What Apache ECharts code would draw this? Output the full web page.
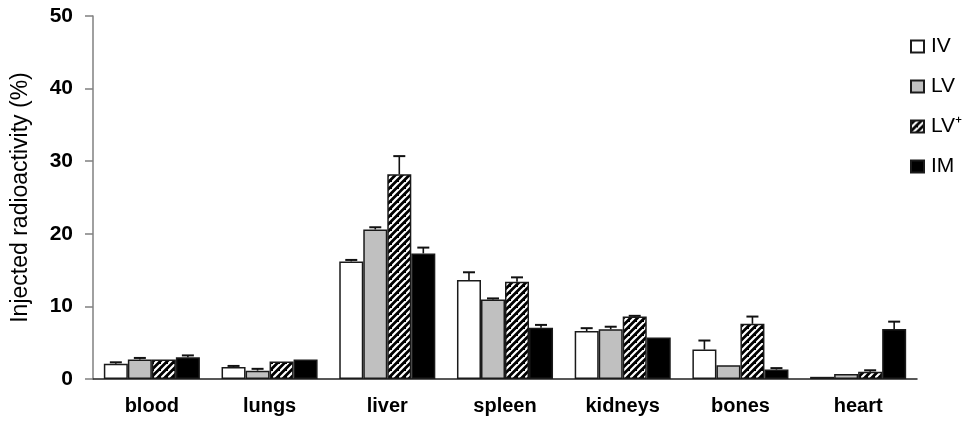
<!DOCTYPE html>
<html>
<head>
<meta charset="utf-8">
<script src="https://cdn.jsdelivr.net/npm/echarts@6/dist/echarts.min.js"></script>
<style>
html,body{margin:0;padding:0;background:#fff;}
#c{width:967px;height:432px;}
</style>
</head>
<body>
<div id="c"></div>
<script>
const categories = ['blood', 'lungs', 'liver', 'spleen', 'kidneys', 'bones', 'heart'];
const seriesNames = ['IV', 'LV', 'LV\u207A', 'IM'];
const ivValues = [2.1, 1.65, 16.2, 13.65, 6.6, 4.05, 0.3];
const ivErrors = [0.2, 0.15, 0.2, 1.05, 0.4, 1.25, 0];
const lvValues = [2.7, 1.15, 20.6, 10.95, 6.85, 1.9, 0.7];
const lvErrors = [0.2, 0.25, 0.3, 0.15, 0.35, 0, 0];
const lvPlusValues = [2.7, 2.4, 28.2, 13.4, 8.6, 7.6, 1.0];
const lvPlusErrors = [0, 0, 2.5, 0.6, 0.1, 1.0, 0.2];
const imValues = [3.0, 2.7, 17.3, 7.05, 5.7, 1.3, 6.9];
const imErrors = [0.25, 0, 0.8, 0.4, 0, 0.2, 1.0];
const yTicks = [0, 10, 20, 30, 40, 50];

const allValues = [ivValues, lvValues, lvPlusValues, imValues];
const allErrors = [ivErrors, lvErrors, lvPlusErrors, imErrors];

// hatch pattern
function makeHatch() {
  const s = 7;
  const cv = document.createElement('canvas');
  cv.width = s; cv.height = s;
  const g = cv.getContext('2d');
  g.fillStyle = '#000';
  g.fillRect(0, 0, s, s);
  g.strokeStyle = '#fff';
  g.lineWidth = 2.2;
  g.beginPath();
  g.moveTo(-1, s + 1); g.lineTo(s + 1, -1);
  g.moveTo(-1 - s, s + 1); g.lineTo(1, -1);
  g.moveTo(s - 1, 2 * s + 1); g.lineTo(2 * s + 1, s - 1);
  g.stroke();
  return cv;
}
const hatch = makeHatch();

const fills = ['#ffffff', '#c0c0c0', { image: hatch, repeat: 'repeat' }, '#000000'];
const CAT_GAP = 0.184;

const series = [];
allValues.forEach((vals, k) => {
  series.push({
    name: seriesNames[k],
    type: 'bar',
    data: vals,
    barGap: '0%',
    barCategoryGap: (CAT_GAP * 100) + '%',
    itemStyle: { color: fills[k], borderColor: '#1a1a1a', borderWidth: 1.5 },
    emphasis: { disabled: true },
    z: 2
  });
});
allValues.forEach((vals, k) => {
  series.push({
    type: 'custom',
    name: seriesNames[k] + ' err',
    data: vals.map((v, i) => [i, v, allErrors[k][i]]),
    z: 5,
    silent: true,
    renderItem: function (params, api) {
      const i = api.value(0), v = api.value(1), e = api.value(2);
      if (!e) return null;
      const catW = api.size([1, 0])[0];
      const barW = catW * (1 - CAT_GAP) / 4;
      const p0 = api.coord([i, v]);
      const p1 = api.coord([i, v + e]);
      const x = p0[0] + (k - 1.5) * barW;
      const half = 6;
      return {
        type: 'group',
        children: [
          { type: 'line', shape: { x1: x, y1: p0[1], x2: x, y2: p1[1] }, style: { stroke: '#111', lineWidth: 1.6 } },
          { type: 'line', shape: { x1: x - half, y1: p1[1], x2: x + half, y2: p1[1] }, style: { stroke: '#111', lineWidth: 2 } }
        ]
      };
    }
  });
});

const chart = echarts.init(document.getElementById('c'), null, { renderer: 'canvas' });
chart.setOption({
  animation: false,
  backgroundColor: '#fff',
  grid: { left: 93, right: 50, top: 16, bottom: 53, containLabel: false },
  legend: {
    data: seriesNames,
    orient: 'vertical',
    left: 905,
    top: 31,
    itemGap: 19,
    itemWidth: 13,
    itemHeight: 12,
    icon: 'rect',
    selectedMode: false,
    textStyle: { fontFamily: 'Liberation Sans', fontSize: 21, color: '#000', padding: [0, 0, 0, 2] }
  },
  xAxis: {
    type: 'category',
    data: categories,
    axisLine: { lineStyle: { color: '#222', width: 1.5 } },
    axisTick: { show: false },
    axisLabel: { margin: 17, fontFamily: 'Liberation Sans', fontWeight: 'bold', fontSize: 20, color: '#000' }
  },
  yAxis: {
    type: 'value',
    min: 0, max: 50, interval: 10,
    name: 'Injected radioactivity (%)',
    nameLocation: 'middle',
    nameGap: 61,
    nameTextStyle: { fontFamily: 'Liberation Sans', fontSize: 23, color: '#000' },
    axisLine: { show: true, lineStyle: { color: '#808080', width: 1.5 } },
    axisTick: { show: true, length: 8, lineStyle: { color: '#808080', width: 1.5 } },
    splitLine: { show: false },
    axisLabel: {
      margin: 20, fontFamily: 'Liberation Sans', fontWeight: 'bold', fontSize: 21, color: '#000',
      formatter: v => yTicks.includes(v) ? String(v) : ''
    }
  },
  series: series
});
</script>
</body>
</html>
